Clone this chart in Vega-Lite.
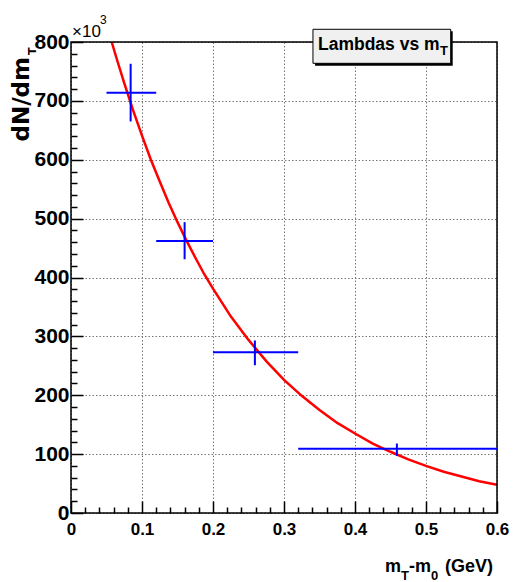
{
  "$schema": "https://vega.github.io/schema/vega-lite/v6.json",
  "width": 426,
  "height": 471,
  "autosize": {"type": "none"},
  "padding": {"left": 71, "top": 42, "right": 17, "bottom": 69},
  "background": "white",
  "config": {
    "view": {"stroke": null},
    "axis": {
      "domain": false,
      "tickColor": "black",
      "tickWidth": 1.5,
      "tickCount": 200,
      "tickDashOffset": 30,
      "gridColor": "#777777",
      "gridDash": [1.5, 2],
      "gridWidth": 1,
      "labelFont": "Liberation Sans",
      "labelFontWeight": "bold",
      "labelColor": "black",
      "labelFlush": false,
      "labelOverlap": false,
      "labelBound": false
    }
  },
  "datasets": {
    "fit": [
      {"x": 0.0573, "y": 800}, {"x": 0.065, "y": 769}, {"x": 0.075, "y": 730},
      {"x": 0.0875, "y": 684}, {"x": 0.1, "y": 641}, {"x": 0.1125, "y": 600},
      {"x": 0.125, "y": 563}, {"x": 0.1375, "y": 527}, {"x": 0.15, "y": 494},
      {"x": 0.1625, "y": 463}, {"x": 0.175, "y": 434}, {"x": 0.1875, "y": 406},
      {"x": 0.2, "y": 381}, {"x": 0.225, "y": 334}, {"x": 0.25, "y": 294},
      {"x": 0.275, "y": 258}, {"x": 0.3, "y": 226}, {"x": 0.325, "y": 199},
      {"x": 0.35, "y": 175}, {"x": 0.375, "y": 153}, {"x": 0.4, "y": 135},
      {"x": 0.425, "y": 118}, {"x": 0.45, "y": 104}, {"x": 0.475, "y": 91},
      {"x": 0.5, "y": 80}, {"x": 0.525, "y": 70}, {"x": 0.55, "y": 62},
      {"x": 0.575, "y": 54}, {"x": 0.6, "y": 48}
    ],
    "points": [
      {"x": 0.084, "xlo": 0.05, "xhi": 0.12, "y": 714, "ylo": 665, "yhi": 763},
      {"x": 0.16, "xlo": 0.12, "xhi": 0.2, "y": 462, "ylo": 431, "yhi": 494},
      {"x": 0.259, "xlo": 0.2, "xhi": 0.32, "y": 273, "ylo": 251, "yhi": 293},
      {"x": 0.459, "xlo": 0.32, "xhi": 0.6, "y": 109, "ylo": 97, "yhi": 118}
    ]
  },
  "layer": [
    {
      "data": {"name": "fit"},
      "mark": {"type": "line", "color": "#ff0000", "strokeWidth": 2.5, "clip": true},
      "encoding": {
        "x": {
          "field": "x", "type": "quantitative",
          "scale": {"domain": [0, 0.6], "nice": false, "zero": false},
          "axis": {
            "title": null,
            "offset": -12,
            "tickCount": 200,
            "values": [0,0.02,0.04,0.06,0.08,0.1,0.12,0.14,0.16,0.18,0.2,0.22,0.24,0.26,0.28,0.3,0.32,0.34,0.36,0.38,0.4,0.42,0.44,0.46,0.48,0.5,0.52,0.54,0.56,0.58,0.6],
            "format": ".1~f",
            "labelExpr": "abs(datum.value*10 - round(datum.value*10)) < 0.001 ? datum.label : ''",
            "labelFontSize": 17,
            "labelPadding": 8,
            "labelBaseline": "top",
            "grid": true,
            "gridOpacity": {"condition": {"test": "abs(datum.value*10 - round(datum.value*10)) < 0.001", "value": 1}, "value": 0},
            "ticks": true,
            "tickSize": 12,
            "tickDash": {"condition": {"test": "abs(datum.value*10 - round(datum.value*10)) < 0.001", "value": [20, 0]}, "value": [6, 30]}
          }
        },
        "y": {
          "field": "y", "type": "quantitative",
          "scale": {"domain": [0, 800], "nice": false},
          "axis": {
            "title": null,
            "offset": -12,
            "tickCount": 200,
            "values": [0,20,40,60,80,100,120,140,160,180,200,220,240,260,280,300,320,340,360,380,400,420,440,460,480,500,520,540,560,580,600,620,640,660,680,700,720,740,760,780,800],
            "labelExpr": "datum.value % 100 === 0 ? datum.label : ''",
            "labelFontSize": 21,
            "labelPadding": 2,
            "grid": true,
            "gridOpacity": {"condition": {"test": "datum.value % 100 === 0", "value": 1}, "value": 0},
            "ticks": true,
            "tickSize": 12,
            "tickDash": {"condition": {"test": "datum.value % 100 === 0", "value": [20, 0]}, "value": [6, 30]}
          }
        }
      }
    },
    {
      "data": {"values": [{"k": 1}]},
      "mark": {"type": "rect", "fillOpacity": 0, "stroke": "black", "strokeWidth": 1.5},
      "encoding": {
        "x": {"datum": 0}, "x2": {"datum": 0.6},
        "y": {"datum": 0}, "y2": {"datum": 800}
      }
    },
    {
      "data": {"name": "points"},
      "mark": {"type": "rule", "color": "#0000ff", "strokeWidth": 2},
      "encoding": {
        "x": {"field": "xlo", "type": "quantitative"},
        "x2": {"field": "xhi"},
        "y": {"field": "y", "type": "quantitative"}
      }
    },
    {
      "data": {"name": "points"},
      "mark": {"type": "rule", "color": "#0000ff", "strokeWidth": 2},
      "encoding": {
        "x": {"field": "x", "type": "quantitative"},
        "y": {"field": "ylo", "type": "quantitative"},
        "y2": {"field": "yhi"}
      }
    },
    {
      "data": {"values": [{"k": 1}]},
      "mark": {"type": "rect", "fill": "black"},
      "encoding": {
        "x": {"datum": 0.3437}, "x2": {"datum": 0.5376},
        "y": {"datum": 818.2}, "y2": {"datum": 759.8}
      }
    },
    {
      "data": {"values": [{"k": 1}]},
      "mark": {"type": "rect", "fill": "#f0f0f0", "stroke": "black", "strokeWidth": 1},
      "encoding": {
        "x": {"datum": 0.3408}, "x2": {"datum": 0.5348},
        "y": {"datum": 821.6}, "y2": {"datum": 763.8}
      }
    },
    {
      "data": {"values": [{"t": "Lambdas vs m"}]},
      "mark": {"type": "text", "font": "Liberation Sans", "fontWeight": "bold", "fontSize": 17.5, "align": "left", "baseline": "alphabetic", "color": "black"},
      "encoding": {"x": {"datum": 0.3479}, "y": {"datum": 786.4}, "text": {"field": "t"}}
    },
    {
      "data": {"values": [{"t": "T"}]},
      "mark": {"type": "text", "font": "Liberation Sans", "fontWeight": "bold", "fontSize": 13, "align": "left", "baseline": "alphabetic", "color": "black"},
      "encoding": {"x": {"datum": 0.5197}, "y": {"datum": 777.9}, "text": {"field": "t"}}
    },
    {
      "data": {"values": [{"t": "×10"}]},
      "mark": {"type": "text", "font": "Liberation Sans", "fontSize": 17, "align": "left", "baseline": "alphabetic", "color": "black"},
      "encoding": {"x": {"datum": 0.0014}, "y": {"datum": 808.5}, "text": {"field": "t"}}
    },
    {
      "data": {"values": [{"t": "3"}]},
      "mark": {"type": "text", "font": "Liberation Sans", "fontSize": 12, "align": "left", "baseline": "alphabetic", "color": "black"},
      "encoding": {"x": {"datum": 0.0409}, "y": {"datum": 830.6}, "text": {"field": "t"}}
    },
    {
      "data": {"values": [{"t": "dN/dm"}]},
      "mark": {"type": "text", "font": "DejaVu Sans", "fontWeight": "bold", "fontSize": 23, "angle": 270, "align": "right", "baseline": "alphabetic", "color": "black"},
      "encoding": {"x": {"datum": -0.0592}, "y": {"datum": 774.5}, "text": {"field": "t"}}
    },
    {
      "data": {"values": [{"t": "T"}]},
      "mark": {"type": "text", "font": "DejaVu Sans", "fontWeight": "bold", "fontSize": 11, "angle": 270, "align": "left", "baseline": "alphabetic", "color": "black"},
      "encoding": {"x": {"datum": -0.0493}, "y": {"datum": 777.9}, "text": {"field": "t"}}
    },
    {
      "data": {"values": [{"t": "m"}]},
      "mark": {"type": "text", "font": "Liberation Sans", "fontWeight": "bold", "fontSize": 18, "align": "left", "baseline": "alphabetic", "color": "black"},
      "encoding": {"x": {"datum": 0.4423}, "y": {"datum": -100.2}, "text": {"field": "t"}}
    },
    {
      "data": {"values": [{"t": "T"}]},
      "mark": {"type": "text", "font": "Liberation Sans", "fontWeight": "bold", "fontSize": 13, "align": "left", "baseline": "alphabetic", "color": "black"},
      "encoding": {"x": {"datum": 0.4648}, "y": {"datum": -113.8}, "text": {"field": "t"}}
    },
    {
      "data": {"values": [{"t": "-m"}]},
      "mark": {"type": "text", "font": "Liberation Sans", "fontWeight": "bold", "fontSize": 18, "align": "left", "baseline": "alphabetic", "color": "black"},
      "encoding": {"x": {"datum": 0.4761}, "y": {"datum": -100.2}, "text": {"field": "t"}}
    },
    {
      "data": {"values": [{"t": "0"}]},
      "mark": {"type": "text", "font": "Liberation Sans", "fontWeight": "bold", "fontSize": 13, "align": "left", "baseline": "alphabetic", "color": "black"},
      "encoding": {"x": {"datum": 0.507}, "y": {"datum": -113.8}, "text": {"field": "t"}}
    },
    {
      "data": {"values": [{"t": "(GeV)"}]},
      "mark": {"type": "text", "font": "Liberation Sans", "fontWeight": "bold", "fontSize": 18, "align": "right", "baseline": "alphabetic", "color": "black"},
      "encoding": {"x": {"datum": 0.5944}, "y": {"datum": -100.2}, "text": {"field": "t"}}
    }
  ]
}
